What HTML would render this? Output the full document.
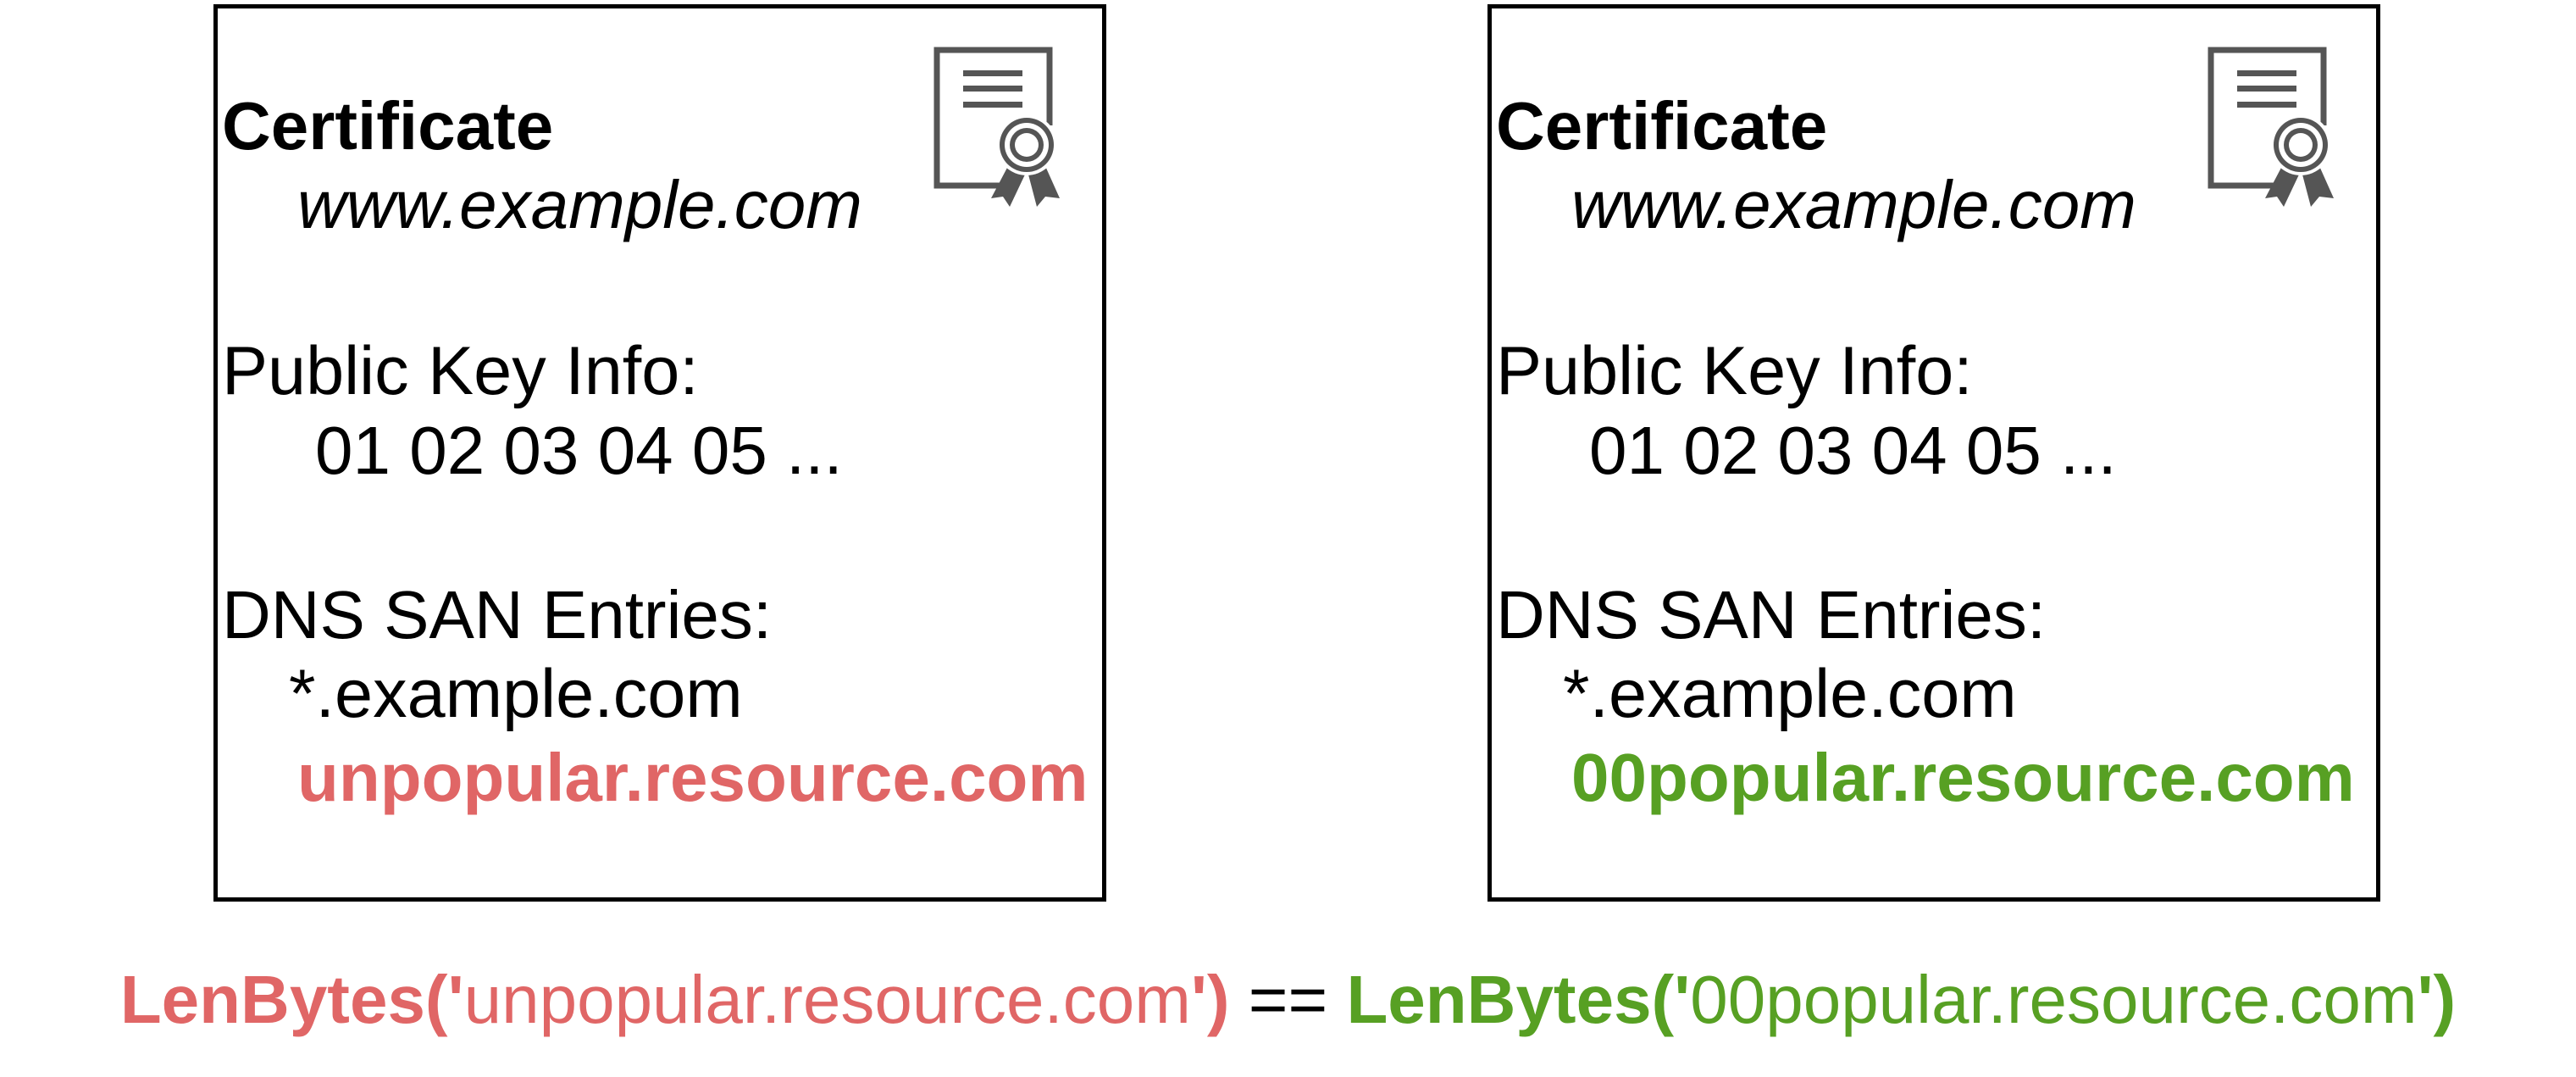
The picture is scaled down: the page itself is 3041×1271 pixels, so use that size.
<!DOCTYPE html>
<html><head><meta charset="utf-8"><style>
html,body{margin:0;padding:0;background:#fff}
body{width:3041px;height:1271px;position:relative;overflow:hidden;font-family:"Liberation Sans",Arial,sans-serif}
.box{position:absolute;top:5px;width:1044px;height:1049px;border:5px solid #000}
.t{position:absolute;font-size:81px;line-height:1;white-space:nowrap;color:#000}
.b{font-weight:bold}
.i{font-style:italic}
.red{color:#E06666}
.grn{color:#57A023}
</style></head><body>
<div class="box" style="left:252px"></div>
<div class="box" style="left:1756px"></div>

<svg width="3041" height="1271" style="position:absolute;left:0;top:0">
<defs>
<g id="ic">
<path d="M1195,219 L1106,219 L1106,59 L1239,59 L1239,148" fill="none" stroke="#555" stroke-width="7"/>
<rect x="1137" y="83" width="70" height="7" fill="#555"/>
<rect x="1137" y="101" width="70" height="7" fill="#555"/>
<rect x="1137" y="120" width="70" height="7" fill="#555"/>
<polygon points="1190,196 1170,234 1184,232 1192,244 1210,206" fill="#555"/>
<polygon points="1214,206 1224,244 1234,232 1251,234 1234,196" fill="#555"/>
<circle cx="1212" cy="171" r="36" fill="#fff"/>
<circle cx="1212" cy="171" r="32" fill="#555"/>
<circle cx="1212" cy="171" r="26" fill="#fff"/>
<circle cx="1212" cy="171" r="20" fill="#555"/>
<circle cx="1212" cy="171" r="14" fill="#fff"/>
</g>
</defs>
<use href="#ic"/>
<use href="#ic" transform="translate(1504,0)"/>
</svg>

<div class="t b" style="left:262px;top:109px;font-size:80px">Certificate</div>
<div class="t i" style="left:351px;top:202px;font-size:80px">www.example.com</div>
<div class="t" style="left:262px;top:398px">Public Key Info:</div>
<div class="t" style="left:372px;top:492px;font-size:80px">01 02 03 04 05 ...</div>
<div class="t" style="left:262px;top:686px;font-size:80px">DNS SAN Entries:</div>
<div class="t" style="left:341px;top:779px">*.example.com</div>
<div class="t b red" style="left:351px;top:878px;font-size:80px">unpopular.resource.com</div>

<div class="t b" style="left:1766px;top:109px;font-size:80px">Certificate</div>
<div class="t i" style="left:1855px;top:202px;font-size:80px">www.example.com</div>
<div class="t" style="left:1766px;top:398px">Public Key Info:</div>
<div class="t" style="left:1876px;top:492px;font-size:80px">01 02 03 04 05 ...</div>
<div class="t" style="left:1766px;top:686px;font-size:80px">DNS SAN Entries:</div>
<div class="t" style="left:1845px;top:779px">*.example.com</div>
<div class="t b grn" style="left:1855px;top:878px;font-size:80px">00popular.resource.com</div>

<div class="t" style="left:0;width:3041px;text-align:center;top:1140px;font-size:80px"><span class="red"><b>LenBytes('</b>unpopular.resource.com<b>')</b></span> == <span class="grn"><b>LenBytes('</b>00popular.resource.com<b>')</b></span></div>
</body></html>
